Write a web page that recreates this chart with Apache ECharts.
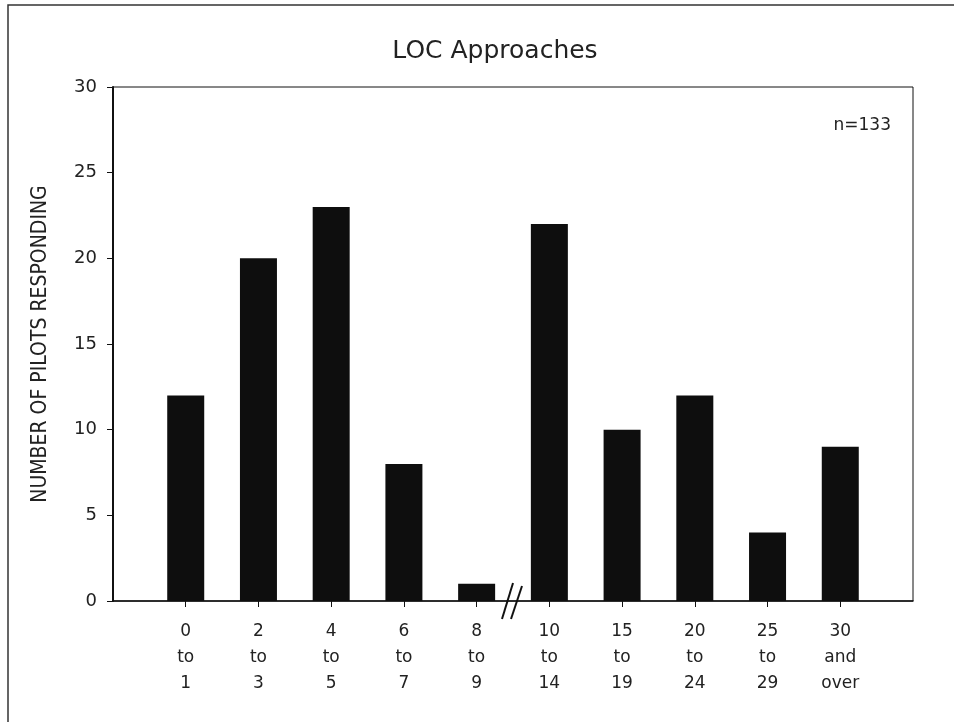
<!DOCTYPE html>
<html>
<head>
<meta charset="utf-8">
<script src="https://cdn.jsdelivr.net/npm/echarts@6/dist/echarts.min.js"></script>
<style>
  html, body { margin: 0; padding: 0; background: #fff; }
  #chart { width: 954px; height: 722px; }
</style>
</head>
<body>
<div id="chart"></div>
<script>
// categories (blank slots at both ends keep the gap to the frame)
const categories = ['', '0\nto\n1', '2\nto\n3', '4\nto\n5', '6\nto\n7', '8\nto\n9',
  '10\nto\n14', '15\nto\n19', '20\nto\n24', '25\nto\n29', '30\nand\nover', '']
const pilots = [null, 12, 20, 23, 8, 1, 22, 10, 12, 4, 9, null]
const yTicks = [0, 5, 10, 15, 20, 25, 30]

const font = 'DejaVu Sans'

const chart = echarts.init(document.getElementById('chart'))
chart.setOption({
  animation: false,
  backgroundColor: '#fff',
  title: [{
    text: 'LOC Approaches',
    left: 490,
    textAlign: 'center',
    top: 34,
    textStyle: { fontFamily: font, fontSize: 25, fontWeight: 'normal', color: '#222' }
  }, {
    text: 'n=133',
    right: 58,
    top: 112,
    textStyle: { fontFamily: font, fontSize: 17, fontWeight: 'normal', color: '#222' }
  }],
  grid: {
    left: 113, right: 41, top: 87, bottom: 121,
    show: true, borderColor: '#111', borderWidth: 1
  },
  xAxis: {
    type: 'category',
    data: categories,
    boundaryGap: false,
    axisLine: { lineStyle: { color: '#111', width: 1.5 } },
    axisTick: {
      length: 6,
      lineStyle: { color: '#111' },
      interval: (i) => i > 0 && i < categories.length - 1
    },
    axisLabel: {
      interval: 0,
      margin: 18,
      fontFamily: font,
      fontSize: 17,
      lineHeight: 26,
      color: '#222'
    },
    splitLine: { show: false }
  },
  yAxis: {
    type: 'value',
    min: yTicks[0],
    max: yTicks[yTicks.length - 1],
    interval: 5,
    name: 'NUMBER OF PILOTS RESPONDING',
    nameLocation: 'middle',
    nameGap: 62,
    nameTextStyle: { fontFamily: '"DejaVu Sans Condensed", "Liberation Sans", sans-serif', fontSize: 21, color: '#222' },
    axisLine: { show: true, lineStyle: { color: '#111', width: 2 } },
    axisTick: { show: true, length: 6, lineStyle: { color: '#111' } },
    axisLabel: { margin: 16, fontFamily: font, fontSize: 18, color: '#222' },
    splitLine: { show: false }
  },
  series: [{
    type: 'bar',
    data: pilots,
    barWidth: 37,
    itemStyle: { color: '#0e0e0e' }
  }],
  graphic: [
    // page frame (left and top edges)
    { type: 'polyline', shape: { points: [[8, 722], [8, 5], [954, 5]] },
      style: { stroke: '#333', lineWidth: 1.5, fill: null } },
    // axis break marks
    { type: 'line', shape: { x1: 502, y1: 619, x2: 513, y2: 583 }, style: { stroke: '#111', lineWidth: 2 } },
    { type: 'line', shape: { x1: 511, y1: 619, x2: 522, y2: 586 }, style: { stroke: '#111', lineWidth: 2 } }
  ]
})
</script>
</body>
</html>
